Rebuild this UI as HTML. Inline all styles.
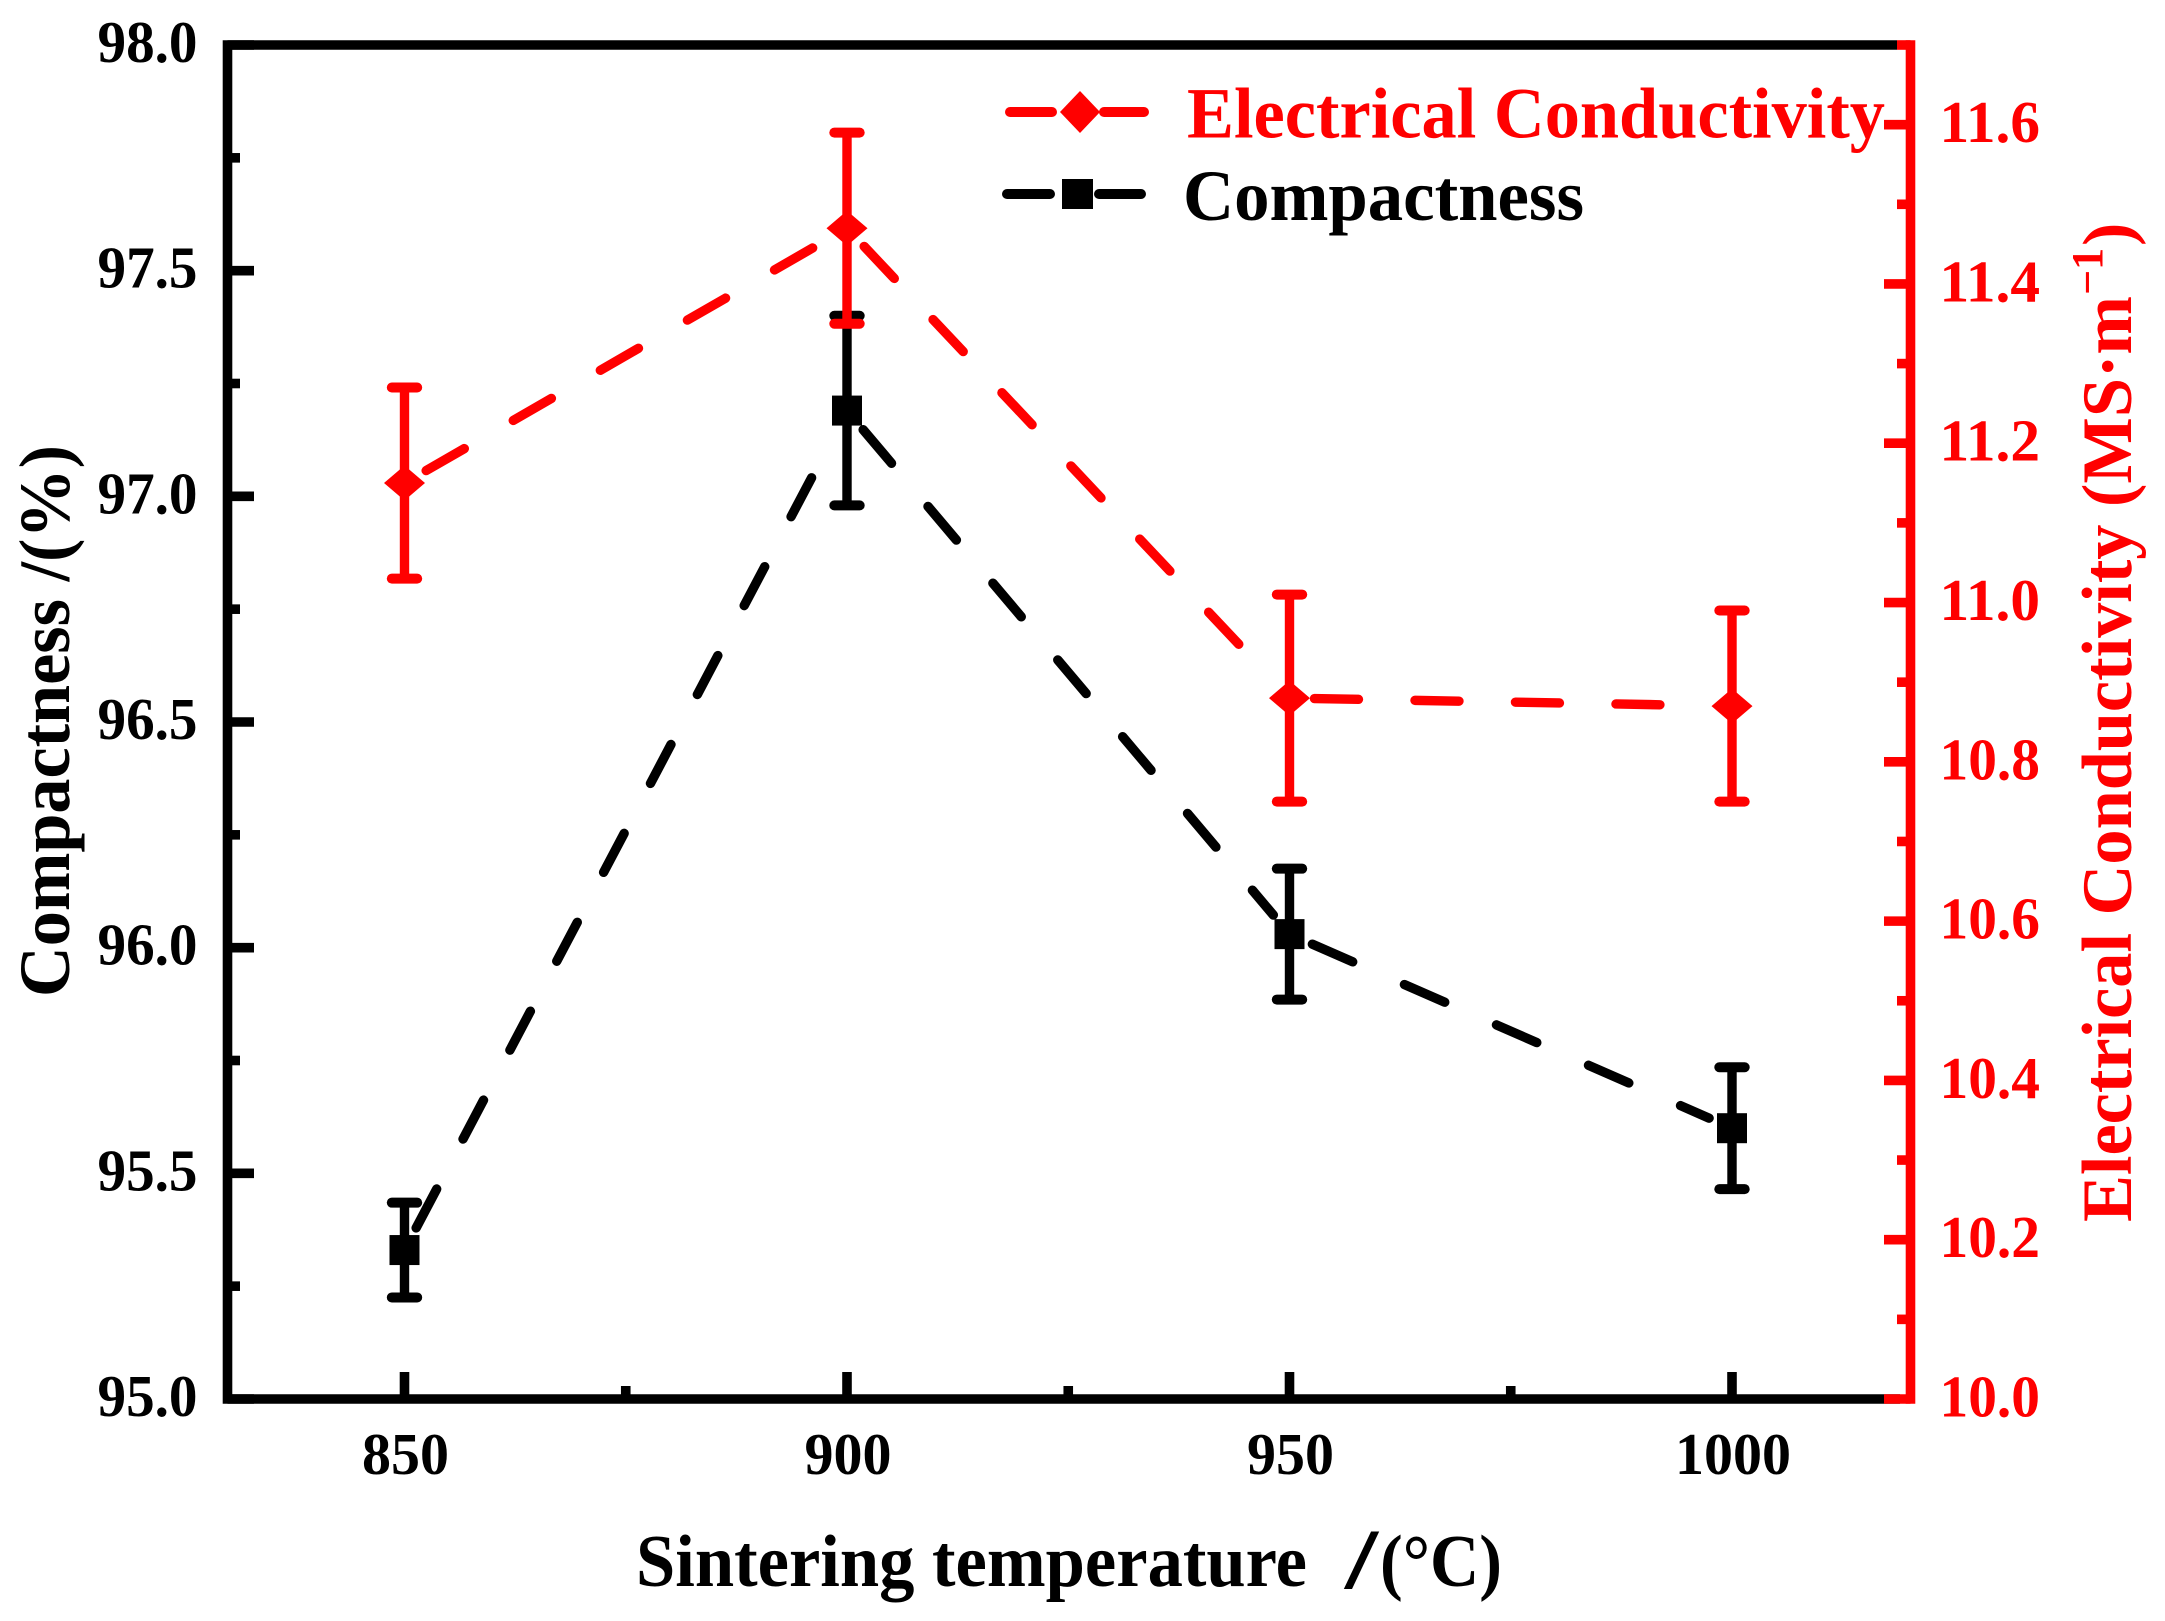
<!DOCTYPE html>
<html lang="en">
<head>
<meta charset="utf-8">
<title>Compactness and Electrical Conductivity vs Sintering Temperature</title>
<style>
html,body{margin:0;padding:0;background:#fff;}
svg{display:block;}
text{font-family:"Liberation Serif",serif;font-weight:bold;}
</style>
</head>
<body>
<svg id="chart" xmlns="http://www.w3.org/2000/svg" width="2165" height="1621" viewBox="0 0 2165 1621">
  <rect x="0" y="0" width="2165" height="1621" fill="#fff"/>
  <g id="axes"></g>
  <g id="series"></g>

  <g fill="#000">
    <text x="636" y="1586" font-size="74" textLength="671" lengthAdjust="spacingAndGlyphs">Sintering temperature</text>
    <text x="1345" y="1588" font-size="86" textLength="33" lengthAdjust="spacingAndGlyphs">/</text>
    <text x="1380" y="1586" font-size="74" textLength="122" lengthAdjust="spacingAndGlyphs">(°C)</text>
  </g>
  <text transform="translate(69,997) rotate(-90)" font-size="72" fill="#000" textLength="552" lengthAdjust="spacingAndGlyphs">Compactness /(%)</text>
  <g fill="#f00">
    <text transform="translate(2131,1222) rotate(-90)" font-size="71" textLength="926" lengthAdjust="spacingAndGlyphs">Electrical Conductivity (MS·m</text>
    <text transform="translate(2102,295) rotate(-90)" font-size="44">−1</text>
    <text transform="translate(2131,246) rotate(-90)" font-size="70">)</text>
  </g>

  <g>
    <g>
      <line x1="1010" y1="112" x2="1052" y2="112" stroke="#f00" stroke-width="10" stroke-linecap="round"/>
      <line x1="1104" y1="112" x2="1144" y2="112" stroke="#f00" stroke-width="10" stroke-linecap="round"/>
      <polygon points="1080,91 1100,112 1080,133 1060,112" fill="#f00"/>
      <text x="1187" y="137.5" font-size="72" fill="#f00" textLength="698" lengthAdjust="spacingAndGlyphs">Electrical Conductivity</text>
    </g>
    <g>
      <line x1="1007" y1="194" x2="1050" y2="194" stroke="#000" stroke-width="10" stroke-linecap="round"/>
      <line x1="1099" y1="194" x2="1141" y2="194" stroke="#000" stroke-width="10" stroke-linecap="round"/>
      <rect x="1062" y="179" width="31" height="30" fill="#000"/>
      <text x="1183" y="220" font-size="72" fill="#000" textLength="401" lengthAdjust="spacingAndGlyphs">Compactness</text>
    </g>
  </g>
</svg>
<script>
// Chart data
const temperatures = [850, 900, 950, 1000];
const compactness = [95.33, 97.19, 96.03, 95.60];
const compactnessError = [0.105, 0.21, 0.145, 0.135];
const conductivity = [11.15, 11.47, 10.88, 10.87];
const conductivityError = [0.12, 0.12, 0.13, 0.12];
const xMajorTicks = [850, 900, 950, 1000];
const xMinorTicks = [875, 925, 975];
const leftMajorTicks = ["95.0", "95.5", "96.0", "96.5", "97.0", "97.5", "98.0"];
const leftMinorTicks = [95.25, 95.75, 96.25, 96.75, 97.25, 97.75];
const rightMajorTicks = ["10.0", "10.2", "10.4", "10.6", "10.8", "11.0", "11.2", "11.4", "11.6"];
const rightMinorTicks = [10.1, 10.3, 10.5, 10.7, 10.9, 11.1, 11.3, 11.5, 11.7];

// Axis functions
const xDomain = [830, 1020], leftDomain = [95, 98], rightDomain = [10, 11.7];
const plotLeft = 227.5, plotRight = 1909, plotTop = 45, plotBottom = 1399;
const rightSpineX = 1910.5;
function xScale(v) { return plotLeft + (v - xDomain[0]) / (xDomain[1] - xDomain[0]) * (plotRight - plotLeft); }
function yLeft(v) { return plotBottom - (v - leftDomain[0]) / (leftDomain[1] - leftDomain[0]) * (plotBottom - plotTop); }
function yRight(v) { return plotBottom - (v - rightDomain[0]) / (rightDomain[1] - rightDomain[0]) * (plotBottom - plotTop); }

const NS = 'http://www.w3.org/2000/svg';
const axesGroup = document.getElementById('axes');
const seriesGroup = document.getElementById('series');

function shape(parent, tag, attrs) {
  const el = document.createElementNS(NS, tag);
  for (const k in attrs) el.setAttribute(k, attrs[k]);
  parent.appendChild(el);
  return el;
}

const AXIS_W = 9.6;

// Frame: black left, top and bottom spines
let el = shape(axesGroup, 'path', { d: 'M1897 ' + plotTop + ' H' + plotLeft + ' V' + plotBottom + ' H1900', fill: 'none', stroke: '#000', 'stroke-width': AXIS_W, 'stroke-linecap': 'butt', 'stroke-linejoin': 'miter' });



// Bottom axis ticks and labels
xMajorTicks.forEach(function (t) {
  const x = xScale(t);
  const tick = shape(axesGroup, 'line', { x1: x, x2: x, y1: plotBottom, y2: 1372, stroke: '#000', 'stroke-width': 9.6 });
  
  
  const label = shape(axesGroup, 'text', { x: x + 1, y: 1474, 'font-size': 59, fill: '#000', 'text-anchor': 'middle', textLength: String(t).length * 29, lengthAdjust: 'spacingAndGlyphs' });
  label.textContent = String(t);
  
  
});
xMinorTicks.forEach(function (t) {
  const x = xScale(t);
  const tick = shape(axesGroup, 'line', { x1: x, x2: x, y1: plotBottom, y2: 1386, stroke: '#000', 'stroke-width': 9.6 });
  
  
});

// Left axis ticks and labels
leftMajorTicks.forEach(function (t) {
  const y = yLeft(parseFloat(t));
  const tick = shape(axesGroup, 'line', { x1: plotLeft, x2: 254, y1: y, y2: y, stroke: '#000', 'stroke-width': 9.6 });
  
  
  const label = shape(axesGroup, 'text', { x: 197.5, y: y + 17, 'font-size': 59, fill: '#000', 'text-anchor': 'end', textLength: 100, lengthAdjust: 'spacingAndGlyphs' });
  label.textContent = t;
  
  
});
leftMinorTicks.forEach(function (t) {
  const y = yLeft(t);
  const tick = shape(axesGroup, 'line', { x1: plotLeft, x2: 240, y1: y, y2: y, stroke: '#000', 'stroke-width': 9.6 });
  
  
});

// Right axis spine, ticks and labels
el = shape(axesGroup, 'line', { x1: rightSpineX, x2: rightSpineX, y1: 40.2, y2: 1403.8, stroke: '#f00', 'stroke-width': AXIS_W });


rightMajorTicks.forEach(function (t) {
  const y = yRight(parseFloat(t));
  const tick = shape(axesGroup, 'line', { x1: rightSpineX, x2: 1884, y1: y, y2: y, stroke: '#f00', 'stroke-width': 9.6 });
  
  
  const label = shape(axesGroup, 'text', { x: 2040, y: y + 17.5, 'font-size': 59, fill: '#f00', 'text-anchor': 'end', textLength: 100.5, lengthAdjust: 'spacingAndGlyphs' });
  label.textContent = t;
  
  
});
rightMinorTicks.forEach(function (t) {
  const y = yRight(t);
  const tick = shape(axesGroup, 'line', { x1: rightSpineX, x2: 1897, y1: y, y2: y, stroke: '#f00', 'stroke-width': 9.6 });
  
  
});

// Series
const LINE_GAP = 25;
function drawSeries(values, errors, yFn, color, kind) {
  const g = shape(seriesGroup, 'g', {});
  
  

  for (let i = 0; i < values.length - 1; i++) {
    const x1 = xScale(temperatures[i]), y1 = yFn(values[i]);
    const x2 = xScale(temperatures[i + 1]), y2 = yFn(values[i + 1]);
    const len = Math.hypot(x2 - x1, y2 - y1);
    const ux = (x2 - x1) / len, uy = (y2 - y1) / len;
    const seg = shape(g, 'line', {
      x1: x1 + ux * LINE_GAP, y1: y1 + uy * LINE_GAP,
      x2: x2 - ux * LINE_GAP, y2: y2 - uy * LINE_GAP,
      stroke: color, 'stroke-width': 9.4, 'stroke-linecap': 'round', 'stroke-dasharray': '44 56.5'
    });
    
    
  }

  values.forEach(function (v, i) {
    const x = xScale(temperatures[i]);
    const yTop = yFn(v + errors[i]), yBot = yFn(v - errors[i]), y = yFn(v);
    const stem = shape(g, 'line', { x1: x, x2: x, y1: yTop, y2: yBot, stroke: color, 'stroke-width': 9.4 });
    
    
    [yTop, yBot].forEach(function (yc) {
      const cap = shape(g, 'line', { x1: x - 12.7, x2: x + 12.7, y1: yc, y2: yc, stroke: color, 'stroke-width': 10, 'stroke-linecap': 'round' });
      
      
    });
    let marker;
    if (kind === 'compactness') {
      marker = shape(g, 'rect', { x: x - 15, y: y - 15, width: 30, height: 30, fill: color });
    } else {
      marker = shape(g, 'polygon', { points: (x) + ',' + (y - 17.5) + ' ' + (x + 20.5) + ',' + y + ' ' + x + ',' + (y + 17.5) + ' ' + (x - 20.5) + ',' + y, fill: color });
    }
    
    
  });
}

drawSeries(compactness, compactnessError, yLeft, '#000', 'compactness');
drawSeries(conductivity, conductivityError, yRight, '#f00', 'conductivity');
</script>
</body>
</html>
